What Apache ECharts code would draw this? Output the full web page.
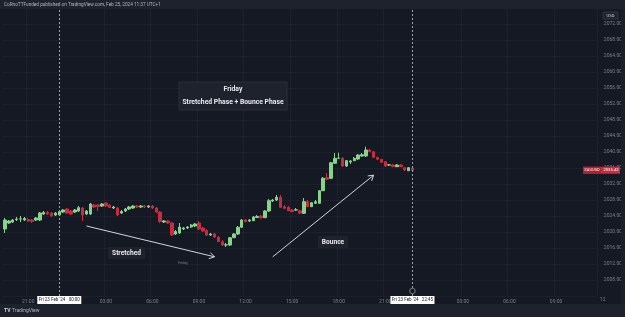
<!DOCTYPE html>
<html><head><meta charset="utf-8">
<script src="https://cdn.jsdelivr.net/npm/echarts@6/dist/echarts.min.js"></script>
<style>html,body{margin:0;padding:0;background:#151924;}#c{width:625px;height:317px;}</style>
</head><body><div id="c"></div>
<script>
// XAUUSD 15-minute candles, Thu 22 Feb 19:30 -> Fri 23 Feb 22:45 (UTC+1)
const opens  = [2020.75,2022.25,2022.50,2023.12,2023.25,2023.00,2023.12,2023.00,2023.00,2023.00,
                2024.50,2024.88,2024.75,2024.25,2024.25,2025.00,2025.75,2025.25,2025.00,2025.25,
                2026.00,2024.50,2024.50,2026.75,2026.75,2026.50,2027.25,2026.75,2026.00,2026.00,
                2024.75,2025.25,2025.75,2026.00,2026.50,2026.25,2026.50,2026.25,2026.50,2026.00,
                2025.00,2022.50,2022.75,2022.25,2019.50,2019.75,2020.75,2021.00,2021.25,2021.50,
                2022.25,2021.00,2020.33,2019.25,2019.50,2018.68,2017.58,2016.75,2016.75,2018.58,
                2019.50,2021.18,2023.00,2022.75,2022.82,2023.62,2024.00,2023.58,2025.25,2027.75,
                2028.00,2028.68,2026.32,2026.18,2025.50,2025.50,2025.32,2024.68,2027.58,2026.32,
                2027.18,2027.18,2030.32,2033.58,2033.42,2037.18,2038.42,2038.42,2036.50,2037.50,
                2037.82,2038.25,2039.00,2039.00,2040.50,2040.08,2038.68,2038.18,2037.58,2036.75,
                2036.75,2036.32,2036.75,2036.08,2035.32,2036.00];
const closes = [2023.00,2022.75,2023.00,2023.25,2023.30,2023.38,2022.75,2022.62,2023.50,2024.75,
                2024.88,2024.50,2024.00,2024.75,2025.12,2025.50,2024.75,2024.50,2025.50,2026.08,
                2024.25,2025.25,2027.00,2026.25,2026.38,2027.00,2026.50,2026.12,2026.25,2024.25,
                2025.12,2025.75,2026.25,2026.50,2026.25,2026.50,2026.25,2026.50,2026.00,2025.00,
                2022.62,2022.75,2022.25,2019.25,2020.12,2021.25,2021.00,2021.25,2021.75,2022.00,
                2020.75,2020.25,2019.25,2019.50,2018.75,2017.58,2016.75,2016.80,2018.58,2019.50,
                2021.18,2023.00,2022.58,2023.00,2023.75,2023.88,2023.58,2025.25,2027.82,2028.00,
                2028.68,2026.18,2025.92,2025.32,2025.08,2025.55,2024.68,2027.58,2026.32,2027.32,
                2027.58,2030.32,2033.42,2033.18,2037.32,2038.42,2038.45,2036.50,2037.82,2037.75,
                2038.42,2039.25,2039.32,2040.50,2040.08,2038.68,2038.18,2037.42,2036.50,2036.78,
                2036.32,2036.75,2036.32,2035.50,2036.08,2035.43];
const lows   = [2019.75,2022.00,2022.25,2022.75,2022.50,2022.75,2022.50,2022.25,2022.75,2022.75,
                2024.25,2024.25,2023.75,2024.00,2024.00,2024.75,2024.50,2024.25,2024.75,2025.00,
                2022.75,2024.25,2024.25,2026.00,2025.25,2026.25,2026.25,2026.00,2025.75,2024.00,
                2024.50,2025.00,2025.50,2025.75,2026.00,2026.00,2026.00,2026.00,2025.75,2024.75,
                2022.25,2022.25,2022.00,2019.00,2019.25,2019.50,2020.50,2020.75,2021.00,2021.25,
                2020.50,2020.00,2019.00,2019.00,2018.50,2017.50,2016.50,2016.25,2016.50,2018.50,
                2019.25,2021.00,2022.50,2022.50,2022.75,2023.50,2023.25,2023.50,2025.00,2027.50,
                2027.75,2026.00,2025.75,2025.25,2025.00,2025.25,2024.50,2024.50,2026.25,2026.25,
                2027.00,2027.00,2030.25,2033.00,2033.25,2037.00,2038.25,2036.25,2036.25,2037.00,
                2037.75,2038.00,2038.75,2038.75,2040.00,2038.50,2038.00,2037.25,2036.25,2036.50,
                2036.25,2036.25,2036.25,2035.25,2035.25,2035.25];
const highs  = [2023.50,2023.00,2023.25,2023.75,2024.00,2023.75,2023.50,2023.25,2023.75,2025.00,
                2025.25,2025.25,2025.00,2025.00,2025.50,2025.75,2026.00,2025.50,2025.75,2026.50,
                2026.25,2025.50,2027.25,2027.00,2027.00,2027.25,2027.50,2027.00,2026.50,2026.25,
                2025.50,2026.00,2026.50,2026.75,2026.75,2026.75,2026.75,2026.75,2026.75,2026.25,
                2025.25,2023.00,2023.00,2022.50,2020.50,2022.25,2021.25,2021.50,2022.00,2022.25,
                2022.75,2021.25,2020.75,2019.75,2019.75,2019.00,2018.00,2017.25,2018.75,2019.75,
                2021.50,2023.25,2023.25,2023.25,2024.00,2024.25,2024.25,2025.50,2028.25,2028.25,
                2029.25,2029.25,2026.75,2026.50,2025.75,2026.00,2025.50,2028.50,2028.00,2027.50,
                2028.00,2030.50,2033.75,2034.75,2037.50,2039.75,2039.82,2038.75,2038.00,2038.00,
                2038.75,2039.50,2039.75,2041.32,2040.75,2040.25,2038.75,2038.25,2037.75,2037.00,
                2037.00,2037.00,2037.00,2036.25,2036.25,2036.25];
const yMin = 2004, yMax = 2076, yStep = 4;
const lastPrice = 2035.43;

function pad(n){return (n<10?'0':'')+n;}
const categories = [];
for (let m = 19*60+30; m <= 22*60+45; m += 15) categories.push('Thu 22 ' + pad(Math.floor(m/60)) + ':' + pad(m%60));
for (let m = 0; m <= 22*60+45; m += 15) categories.push('Fri 23 ' + pad(Math.floor(m/60)) + ':' + pad(m%60));
for (let m = 0; categories.length < 153; m += 15) categories.push('Mon 26 ' + pad(Math.floor(m/60)) + ':' + pad(m%60));

const candles = categories.map((c, i) => i < opens.length ? [opens[i], closes[i], lows[i], highs[i]] : '-');

function showLabel(index, value) {
  const t = value.slice(-5), h = +t.slice(0,2), mi = +t.slice(3);
  return mi === 0 && h % 3 === 0 && h !== 0;
}

const BG = '#151924', STRIP = '#1e222d', TXT = '#7c808b';
const UP = '#89d28c', DN = '#cb2b3e';
const FONT = 'Roboto, "Noto Sans", sans-serif';

const chart = echarts.init(document.getElementById('c'));
chart.setOption({
  backgroundColor: BG,
  animation: false,
  grid: { left: 3, right: 28, top: 8, bottom: 21, containLabel: false },
  xAxis: {
    type: 'category', data: categories, boundaryGap: true,
    axisLine: { show: false }, axisTick: { show: false },
    axisLabel: { interval: showLabel, formatter: v => v.slice(-5), color: TXT, fontSize: 5, fontFamily: FONT, margin: 3 },
    splitLine: { show: true, interval: showLabel, lineStyle: { color: 'rgba(255,255,255,0.035)', width: 1 } }
  },
  yAxis: {
    type: 'value', position: 'right', min: yMin, max: yMax, interval: yStep, scale: true,
    axisLine: { show: false }, axisTick: { show: false },
    axisLabel: { showMinLabel: false, showMaxLabel: false, formatter: v => v.toFixed(2), color: TXT, fontSize: 5, fontFamily: FONT, margin: 7, align: 'left' },
    splitLine: { show: true, lineStyle: { color: 'rgba(255,255,255,0.03)', width: 1 } }
  },
  series: [{
    type: 'candlestick', data: candles, barWidth: '76%',
    itemStyle: { color: UP, color0: DN, borderColor: UP, borderColor0: DN, borderWidth: 1 },
    markLine: {
      silent: true, symbol: ['none','none'], label: { show: false },
      lineStyle: { type: [2,2], color: '#9ea2ab', width: 1 },
      data: [{ xAxis: categories[14] }, { xAxis: categories[105] }]
    }
  }]
});

function px(k, p) { return chart.convertToPixel({ gridIndex: 0 }, [k, p]); }
function arrow(a, b) {
  const dx = b[0]-a[0], dy = b[1]-a[1], L = Math.hypot(dx, dy), ux = dx/L, uy = dy/L, hl = 6, an = 0.55;
  const h1 = [b[0] - hl*(ux*Math.cos(an) - uy*Math.sin(an)), b[1] - hl*(uy*Math.cos(an) + ux*Math.sin(an))];
  const h2 = [b[0] - hl*(ux*Math.cos(-an) - uy*Math.sin(-an)), b[1] - hl*(uy*Math.cos(-an) + ux*Math.sin(-an))];
  return [
    { type: 'line', shape: { x1: a[0], y1: a[1], x2: b[0], y2: b[1] }, style: { stroke: '#d1d4dc', lineWidth: 1 } },
    { type: 'polyline', shape: { points: [h1, b, h2] }, style: { stroke: '#d1d4dc', lineWidth: 1, fill: null } }
  ];
}
function sessionBox(k, text) {
  const x = px(k, yMin)[0];
  return [
    { type: 'rect', shape: { x: x-22, y: 296, width: 44, height: 8 }, style: { fill: '#ffffff' } },
    { type: 'text', x: x, y: 300, style: { text: text, fill: '#131722', font: '4.5px ' + FONT, textAlign: 'center', textVerticalAlign: 'middle' } }
  ];
}
const lp = px(105, lastPrice);
const w = px(1, yMin)[0] - px(0, yMin)[0];
const g = [
  { type: 'rect', shape: { x: 0, y: 0, width: 625, height: 9 }, style: { fill: STRIP } },
  { type: 'text', x: 4, y: 5, style: { text: 'CoRnoTTFunded published on TradingView.com, Feb 25, 2024 11:37 UTC+1', fill: '#b2b5be', font: '4.7px ' + FONT, textVerticalAlign: 'middle' } },
  { type: 'rect', shape: { x: 0, y: 304, width: 625, height: 13 }, style: { fill: STRIP } },
  { type: 'text', x: 4, y: 311, style: { text: 'TV', fill: '#d1d4dc', font: 'bold 5px ' + FONT, textVerticalAlign: 'middle' } },
  { type: 'text', x: 12, y: 311, style: { text: 'TradingView', fill: '#b2b5be', font: '5px ' + FONT, textVerticalAlign: 'middle' } },
  { type: 'rect', shape: { x: 621, y: 9, width: 4, height: 295 }, style: { fill: '#1b1f2a' } },
  { type: 'rect', shape: { x: 603, y: 12, width: 15, height: 7, r: 1 }, style: { fill: '#1e222d', stroke: '#434651', lineWidth: 0.6 } },
  { type: 'text', x: 610.5, y: 15.5, style: { text: 'USD', fill: '#d1d4dc', font: '4.2px ' + FONT, textAlign: 'center', textVerticalAlign: 'middle' } },
  // Annotation box
  { type: 'rect', shape: { x: 179, y: 82, width: 108, height: 28 }, style: { fill: '#1e222d', stroke: '#2a2e39', lineWidth: 1 } },
  { type: 'text', x: 233, y: 89, style: { text: 'Friday', fill: '#e8eaef', font: 'bold 6.8px ' + FONT, textAlign: 'center', textVerticalAlign: 'middle' } },
  { type: 'text', x: 233, y: 102, style: { text: 'Stretched Phase + Bounce Phase', fill: '#e8eaef', font: 'bold 6.8px ' + FONT, textAlign: 'center', textVerticalAlign: 'middle' } },
  // labels
  { type: 'rect', shape: { x: 108, y: 247, width: 37, height: 12, r: 1 }, style: { fill: '#1e222d' } },
  { type: 'text', x: 126.5, y: 253, style: { text: 'Stretched', fill: '#e8eaef', font: 'bold 6.6px ' + FONT, textAlign: 'center', textVerticalAlign: 'middle' } },
  { type: 'rect', shape: { x: 318, y: 236, width: 30, height: 12, r: 1 }, style: { fill: '#1e222d' } },
  { type: 'text', x: 333, y: 242, style: { text: 'Bounce', fill: '#e8eaef', font: 'bold 6.6px ' + FONT, textAlign: 'center', textVerticalAlign: 'middle' } },
  { type: 'text', x: 183, y: 263, style: { text: 'Friday', fill: '#787b86', font: '3.8px ' + FONT, textAlign: 'center', textVerticalAlign: 'middle' } },
  // price label
  { type: 'rect', shape: { x: 583, y: lp[1]-3.5, width: 37, height: 7 }, style: { fill: DN } },
  { type: 'rect', shape: { x: 583, y: lp[1]-3.5, width: 18, height: 7 }, style: { fill: '#b0202f' } },
  { type: 'text', x: 592, y: lp[1], style: { text: 'XAUUSD', fill: '#ffffff', font: '4px ' + FONT, textAlign: 'center', textVerticalAlign: 'middle' } },
  { type: 'text', x: 611, y: lp[1], style: { text: lastPrice.toFixed(2), fill: '#ffffff', font: '4.2px ' + FONT, textAlign: 'center', textVerticalAlign: 'middle' } },
  // event marker
  { type: 'circle', shape: { cx: px(105, yMin)[0], cy: 291, r: 2.8 }, style: { fill: BG, stroke: '#9ea2ab', lineWidth: 0.7 } },
  { type: 'text', x: px(142, yMin)[0] + 12*w, y: 300, style: { text: '12', fill: TXT, font: '5px ' + FONT, textAlign: 'center', textVerticalAlign: 'middle' } }
]
.concat(arrow(px(21.1, 2021.5), px(53.6, 2013.8)))
.concat(arrow(px(68.7, 2013.8), px(94.9, 2034.2)))
.concat(sessionBox(14, "Fri 23 Feb '24   00:00"))
.concat(sessionBox(105, "Fri 23 Feb '24   22:45"));
chart.setOption({ graphic: g.map(e => Object.assign({ silent: true, z: 100 }, e)) });
</script>
</body></html>
